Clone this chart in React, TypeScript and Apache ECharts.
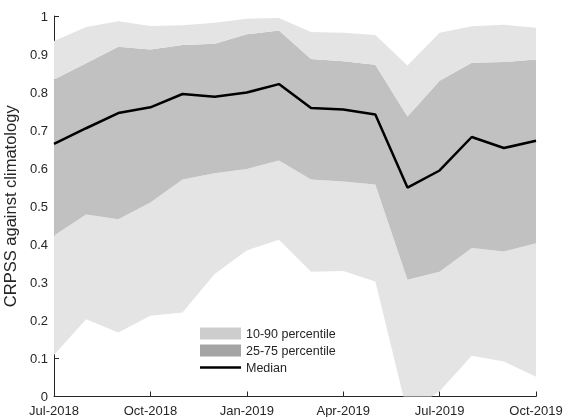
import React, { useEffect, useRef } from "react";
import * as echarts from "echarts";

const months = [
  "Jul-2018", "Aug-2018", "Sep-2018", "Oct-2018", "Nov-2018", "Dec-2018",
  "Jan-2019", "Feb-2019", "Mar-2019", "Apr-2019", "May-2019", "Jun-2019",
  "Jul-2019", "Aug-2019", "Sep-2019", "Oct-2019",
];
const p10 = [0.109, 0.203, 0.168, 0.212, 0.221, 0.322, 0.384, 0.412, 0.328, 0.330, 0.302, -0.044, 0.014, 0.107, 0.092, 0.052];
const p25 = [0.423, 0.478, 0.466, 0.51, 0.570, 0.587, 0.598, 0.620, 0.570, 0.565, 0.557, 0.307, 0.328, 0.390, 0.381, 0.403];
const median = [0.664, 0.705, 0.745, 0.760, 0.795, 0.788, 0.799, 0.821, 0.758, 0.754, 0.741, 0.549, 0.594, 0.682, 0.653, 0.672];
const p75 = [0.833, 0.876, 0.919, 0.912, 0.924, 0.927, 0.952, 0.962, 0.887, 0.881, 0.872, 0.736, 0.830, 0.877, 0.879, 0.886];
const p90 = [0.934, 0.971, 0.986, 0.974, 0.976, 0.982, 0.993, 0.995, 0.958, 0.956, 0.950, 0.870, 0.956, 0.973, 0.977, 0.969];

const LIGHT = "#e4e4e4";
const DARK = "#c1c1c1";
const AXIS = "#262626";
const FONT = "'Liberation Sans', Arial, sans-serif";

export default function App() {
  const ref = useRef<HTMLDivElement>(null);
  useEffect(() => {
    if (!ref.current) return;
    const chart = echarts.init(ref.current, null, { renderer: "svg" });
    const diff = (a: number[], b: number[]) => a.map((v, i) => +(v - b[i]).toFixed(4));
    const bandBase = {
      type: "line",
      stack: "band",
      stackStrategy: "all",
      symbol: "none",
      showSymbol: false,
      lineStyle: { width: 0, opacity: 0 },
      silent: true,
      clip: true,
    };
    chart.setOption({
      animation: false,
      textStyle: { fontFamily: FONT },
      grid: { left: 54, right: 27, top: 16, bottom: 20.5, containLabel: false, outerBoundsMode: "none" },
      legend: {
        left: 200,
        top: 327,
        padding: 0,
        orient: "vertical",
        itemWidth: 41,
        itemHeight: 12,
        itemGap: 4,
        selectedMode: false,
        textStyle: { fontSize: 12.5, color: AXIS, fontFamily: FONT },
        data: [
          { name: "10-90 percentile", icon: "rect", itemStyle: { color: "#cdcdcd" } },
          { name: "25-75 percentile", icon: "rect", itemStyle: { color: "#a4a4a4" } },
          { name: "Median", icon: "path://M0,0H41V2.5H0Z", itemStyle: { color: "#000000" } },
        ],
      },
      xAxis: {
        type: "category",
        data: months,
        boundaryGap: false,
        axisLine: { lineStyle: { color: AXIS, width: 1 } },
        axisTick: { inside: true, length: 5, interval: 2, lineStyle: { color: AXIS } },
        axisLabel: { interval: 2, color: AXIS, fontSize: 13, margin: 7, fontFamily: FONT },
        splitLine: { show: false },
      },
      yAxis: {
        type: "value",
        min: 0,
        max: 1,
        interval: 0.1,
        name: "CRPSS against climatology",
        nameLocation: "middle",
        nameGap: 36,
        nameTextStyle: { fontSize: 16.5, color: AXIS, fontFamily: FONT },
        axisLine: { show: true, lineStyle: { color: AXIS, width: 1 } },
        axisTick: { show: true, inside: true, length: 5, lineStyle: { color: AXIS } },
        axisLabel: { color: AXIS, fontSize: 13, margin: 6, fontFamily: FONT },
        splitLine: { show: false },
      },
      series: [
        { ...bandBase, name: "base", data: p10 },
        { ...bandBase, name: "10-90 percentile", data: diff(p25, p10), areaStyle: { color: LIGHT, opacity: 1 }, itemStyle: { color: LIGHT } },
        { ...bandBase, name: "25-75 percentile", data: diff(p75, p25), areaStyle: { color: DARK, opacity: 1 }, itemStyle: { color: DARK } },
        { ...bandBase, name: "10-90 percentile", data: diff(p90, p75), areaStyle: { color: LIGHT, opacity: 1 }, itemStyle: { color: LIGHT } },
        {
          type: "line",
          name: "Median",
          data: median,
          symbol: "none",
          showSymbol: false,
          lineStyle: { color: "#000000", width: 2.5 },
          itemStyle: { color: "#000000" },
          z: 5,
        },
      ],
    });
    return () => chart.dispose();
  }, []);
  return <div ref={ref} style={{ position: "fixed", left: 0, top: 0, width: 563, height: 417 }} />;
}
